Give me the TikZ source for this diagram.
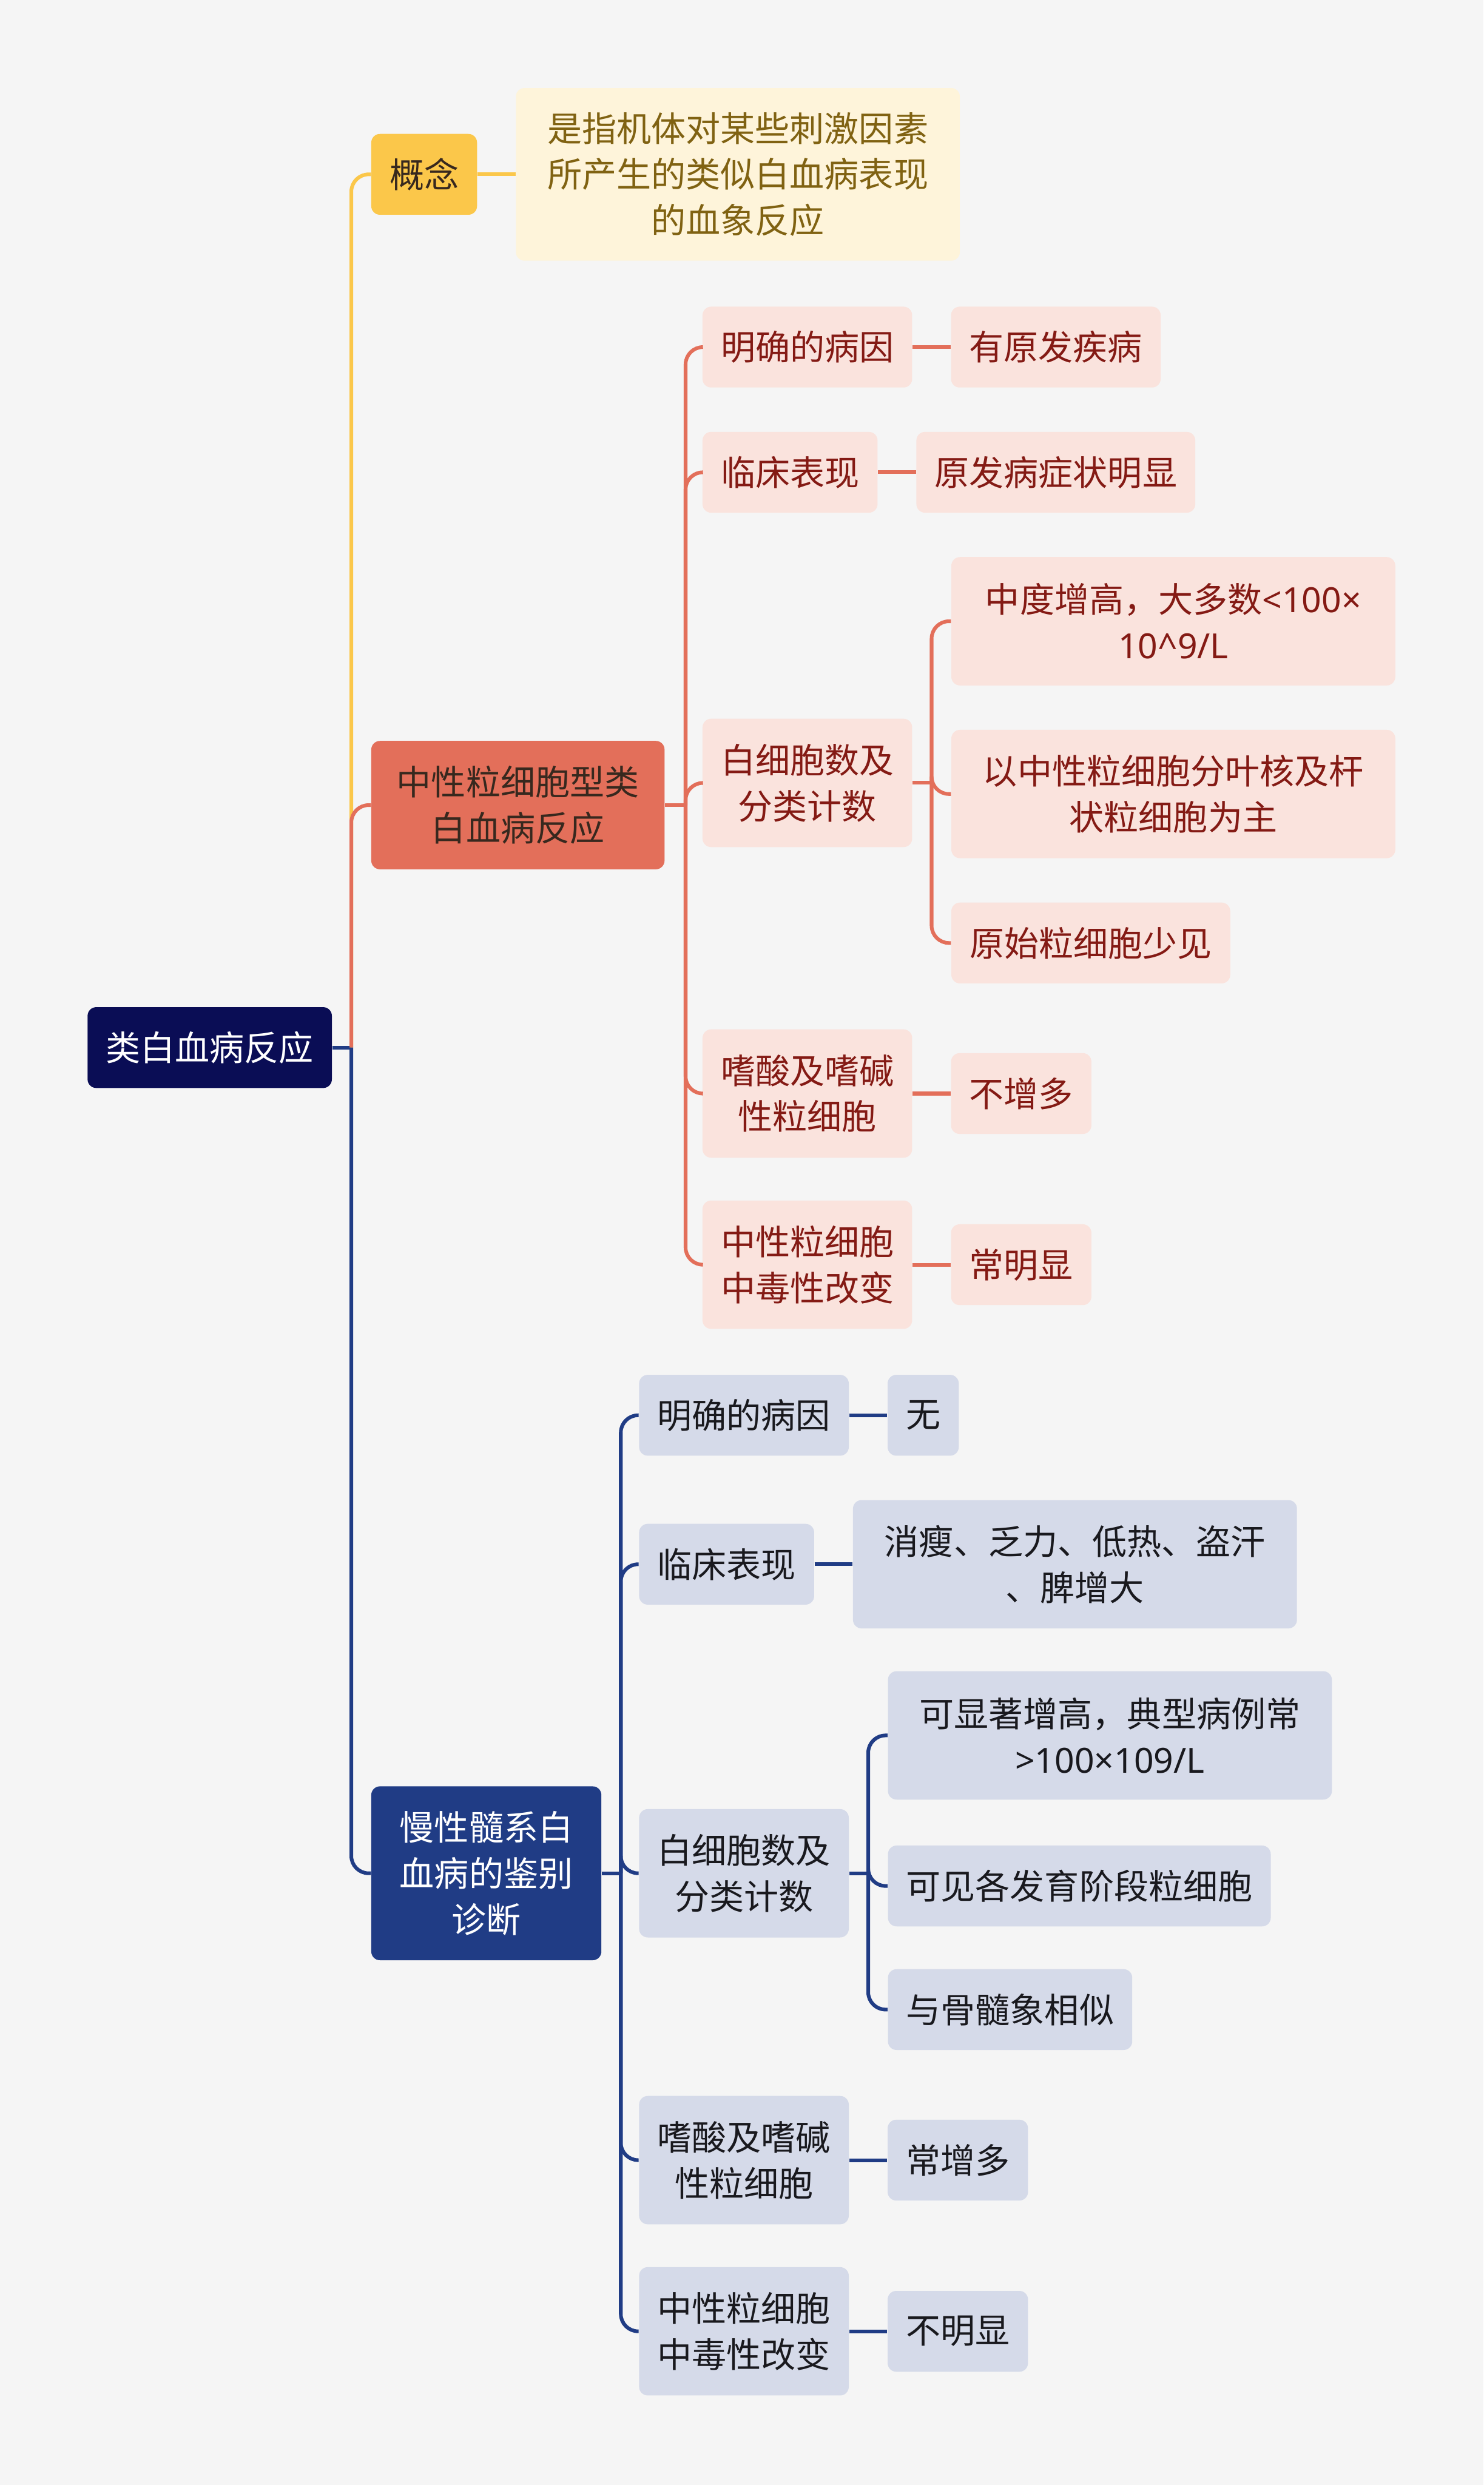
\documentclass[tikz,border=0pt]{standalone}
\usepackage{fontspec}
\setmainfont{Noto Sans CJK SC}
\newfontfamily\latinfont{Noto Sans}
\usepackage{xcolor}
\usepackage{tikz}
\usetikzlibrary{positioning, calc}
\definecolor{canvas}{RGB}{245,245,245}
\definecolor{rootnavy}{RGB}{10,13,85}
\definecolor{sunyellow}{RGB}{251,199,74}
\definecolor{creamleaf}{RGB}{254,244,218}
\definecolor{goldtext}{RGB}{128,98,18}
\definecolor{coral}{RGB}{227,111,90}
\definecolor{blushleaf}{RGB}{250,227,221}
\definecolor{winetext}{RGB}{132,26,20}
\definecolor{royal}{RGB}{32,60,133}
\definecolor{mistleaf}{RGB}{213,218,233}
\definecolor{inktext}{RGB}{25,25,30}
\definecolor{darktext}{RGB}{55,40,30}

\begin{document}
\begin{tikzpicture}[
    x=0.02735cm, y=-0.02735cm,
    node distance=0.656cm,
    % -------------------------------------------------
    % Node styles
    % -------------------------------------------------
    box/.style={
        rectangle,
        rounded corners=0.15cm,
        inner xsep=0.315cm,
        inner ysep=0pt,
        minimum height=1.395cm,
        align=center,
        font=\fontsize{17}{22.6}\selectfont
    },
    twoline/.style={minimum height=2.215cm},
    threeline/.style={minimum height=3.0cm},
    wide/.style={minimum width=7.66cm},
    rootbox/.style={box, fill=rootnavy, text=white},
    yellowhead/.style={box, fill=sunyellow, text=darktext},
    yellowleaf/.style={box, fill=creamleaf, text=goldtext},
    redhead/.style={box, fill=coral, text=darktext},
    redchild/.style={box, fill=blushleaf, text=winetext},
    bluehead/.style={box, fill=royal, text=white},
    bluechild/.style={box, fill=mistleaf, text=inktext},
    % -------------------------------------------------
    % Connections
    % -------------------------------------------------
    yline/.style={draw=sunyellow, line width=1.8pt, rounded corners=0.3cm},
    redline/.style={draw=coral, line width=1.8pt, rounded corners=0.3cm},
    blueline/.style={draw=royal, line width=1.8pt, rounded corners=0.3cm}
]

\fill[canvas] (0,0) rectangle (936,1568);
\useasboundingbox (0,0) rectangle (936,1568);

% =====================================================
% Root
% =====================================================

\node[rootbox, anchor=west] (root) at (55,661)
    {类白血病反应};

% =====================================================
% Concept
% =====================================================

\node[yellowhead, anchor=west] (concept) at (234,110)
    {概念};

\node[yellowleaf, wide, minimum height=2.98cm, right=of concept] (conceptdef)
    {是指机体对某些刺激因素\\所产生的类似白血病表现\\的血象反应};

% =====================================================
% Neutrophilic leukemoid reaction
% =====================================================

\node[redhead, twoline, minimum width=5.06cm, anchor=west] (neutro) at (234,508)
    {中性粒细胞型类\\白血病反应};

\node[redchild, anchor=west] (rcause) at (443,219)
    {明确的病因};
\node[redchild, right=of rcause] (rcauseval)
    {有原发疾病};

\node[redchild, anchor=west] (rclinic) at (443,298)
    {临床表现};
\node[redchild, right=of rclinic] (rclinicval)
    {原发病症状明显};

\node[redchild, twoline, anchor=west] (rwbc) at (443,494)
    {白细胞数及\\分类计数};
\node[redchild, wide, twoline, anchor=west] (rwbcone) at (600,392)
    {中度增高，大多数{\latinfont <100×}\\{\latinfont 10\textasciicircum 9/L}};
\node[redchild, wide, twoline, anchor=west] (rwbctwo) at (600,501)
    {以中性粒细胞分叶核及杆\\状粒细胞为主};
\node[redchild, anchor=west] (rwbcthree) at (600,595)
    {原始粒细胞少见};

\node[redchild, twoline, anchor=west] (reos) at (443,690)
    {嗜酸及嗜碱\\性粒细胞};
\node[redchild, right=of reos] (reosval)
    {不增多};

\node[redchild, twoline, anchor=west] (rtox) at (443,798)
    {中性粒细胞\\中毒性改变};
\node[redchild, right=of rtox] (rtoxval)
    {常明显};

% =====================================================
% Differential diagnosis from CML
% =====================================================

\node[bluehead, threeline, minimum width=3.97cm, anchor=west] (cml) at (234,1182)
    {慢性髓系白\\血病的鉴别\\诊断};

\node[bluechild, anchor=west] (bcause) at (403,893)
    {明确的病因};
\node[bluechild, right=of bcause] (bcauseval)
    {无};

\node[bluechild, anchor=west] (bclinic) at (403,987)
    {临床表现};
\node[bluechild, wide, twoline, right=of bclinic] (bclinicval)
    {消瘦、乏力、低热、盗汗\\、脾增大};

\node[bluechild, twoline, anchor=west] (bwbc) at (403,1182)
    {白细胞数及\\分类计数};
\node[bluechild, wide, twoline, anchor=west] (bwbcone) at (560,1095)
    {可显著增高，典型病例常\\{\latinfont >100×109/L}};
\node[bluechild, anchor=west] (bwbctwo) at (560,1190)
    {可见各发育阶段粒细胞};
\node[bluechild, anchor=west] (bwbcthree) at (560,1268)
    {与骨髓象相似};

\node[bluechild, twoline, anchor=west] (beos) at (403,1363)
    {嗜酸及嗜碱\\性粒细胞};
\node[bluechild, right=of beos] (beosval)
    {常增多};

\node[bluechild, twoline, anchor=west] (btox) at (403,1471)
    {中性粒细胞\\中毒性改变};
\node[bluechild, right=of btox] (btoxval)
    {不明显};

% =====================================================
% Fork points
% =====================================================

\coordinate (rootfork) at ($(root.east)+(12,0)$);
\coordinate (redfork) at ($(neutro.east)+(13,0)$);
\coordinate (rsubfork) at ($(rwbc.east)+(12,0)$);
\coordinate (bluefork) at ($(cml.east)+(12,0)$);
\coordinate (bsubfork) at ($(bwbc.east)+(12,0)$);

% =====================================================
% Root -> main branches
% =====================================================

\draw[blueline] (root.east) -- (rootfork);
\draw[yline] (rootfork) |- (concept.west);
\draw[redline] (rootfork) |- (neutro.west);
\draw[blueline] (rootfork) |- (cml.west);

\draw[yline] (concept) -- (conceptdef);

% =====================================================
% Neutrophilic branch
% =====================================================

\draw[redline] (neutro.east) -- (redfork);
\draw[redline] (redfork) |- (rcause.west);
\draw[redline] (redfork) |- (rclinic.west);
\draw[redline] (redfork) |- (rwbc.west);
\draw[redline] (redfork) |- (reos.west);
\draw[redline] (redfork) |- (rtox.west);

\draw[redline] (rcause) -- (rcauseval);
\draw[redline] (rclinic) -- (rclinicval);
\draw[redline] (reos) -- (reosval);
\draw[redline] (rtox) -- (rtoxval);

\draw[redline] (rwbc.east) -- (rsubfork);
\draw[redline] (rsubfork) |- (rwbcone.west);
\draw[redline] (rsubfork) |- (rwbctwo.west);
\draw[redline] (rsubfork) |- (rwbcthree.west);

% =====================================================
% CML branch
% =====================================================

\draw[blueline] (cml.east) -- (bluefork);
\draw[blueline] (bluefork) |- (bcause.west);
\draw[blueline] (bluefork) |- (bclinic.west);
\draw[blueline] (bluefork) |- (bwbc.west);
\draw[blueline] (bluefork) |- (beos.west);
\draw[blueline] (bluefork) |- (btox.west);

\draw[blueline] (bcause) -- (bcauseval);
\draw[blueline] (bclinic) -- (bclinicval);
\draw[blueline] (beos) -- (beosval);
\draw[blueline] (btox) -- (btoxval);

\draw[blueline] (bwbc.east) -- (bsubfork);
\draw[blueline] (bsubfork) |- (bwbcone.west);
\draw[blueline] (bsubfork) |- (bwbctwo.west);
\draw[blueline] (bsubfork) |- (bwbcthree.west);

\end{tikzpicture}
\end{document}
